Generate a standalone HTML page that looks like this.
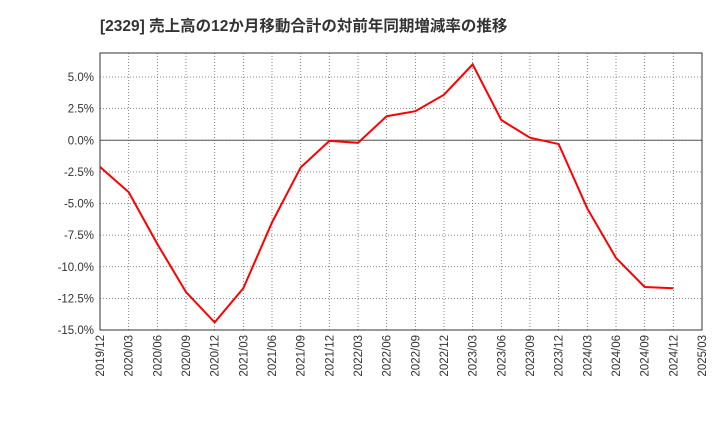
<!DOCTYPE html>
<html><head><meta charset="utf-8"><style>
body{margin:0;background:#fff;}
svg{display:block;font-family:"Liberation Sans","Noto Sans CJK JP",sans-serif;}
</style></head><body>
<svg id="chart" width="720" height="440">
<text x="100" y="31" font-size="15.5" font-weight="bold" fill="#333">[2329]  売上高の12か月移動合計の対前年同期増減率の推移</text>
<g id="grid"></g><g id="axes"></g><g id="series"></g>
</svg>
<script>
const categories=["2019/12","2020/03","2020/06","2020/09","2020/12","2021/03","2021/06","2021/09","2021/12","2022/03","2022/06","2022/09","2022/12","2023/03","2023/06","2023/09","2023/12","2024/03","2024/06","2024/09","2024/12","2025/03"];
const values=[-2.1,-4.1,-8.2,-12.0,-14.4,-11.7,-6.5,-2.15,-0.05,-0.2,1.9,2.3,3.6,6.0,1.6,0.2,-0.3,-5.4,-9.3,-11.6,-11.7];
const yTicks=[5,2.5,0,-2.5,-5,-7.5,-10,-12.5,-15];
const yTickLabels=["5.0%","2.5%","0.0%","-2.5%","-5.0%","-7.5%","-10.0%","-12.5%","-15.0%"];
const L=100,R=702,T=53,B=330,yMin=-15,yMax=6.9;
const x=i=>L+i*(R-L)/(categories.length-1);
const y=v=>B-(v-yMin)/(yMax-yMin)*(B-T);
const NS="http://www.w3.org/2000/svg";
function mk(t,a,p){const e=document.createElementNS(NS,t);for(const k in a)e.setAttribute(k,a[k]);p.appendChild(e);return e;}
const grid=document.getElementById('grid'),axes=document.getElementById('axes'),series=document.getElementById('series');
categories.forEach((c,i)=>{
 const g=mk('line',{x1:x(i),x2:x(i),y1:T,y2:B,stroke:'#666','stroke-width':0.8,'stroke-dasharray':'1,2'},grid);
 
 
 const xx=x(i),yy=B+5;
 const t=mk('text',{x:xx+4,y:yy,'font-size':11.5,fill:'#333','text-anchor':'end',transform:`rotate(-90 ${xx+4} ${yy})`},axes);
 t.textContent=c;
 
 
});
yTicks.forEach((v,i)=>{
 const g=mk('line',{x1:L,x2:R,y1:y(v),y2:y(v),stroke:'#666','stroke-width':0.8,'stroke-dasharray':'1,2'},grid);
 
 
 const t=mk('text',{x:L-6,y:y(v)+4,'font-size':11.5,fill:'#333','text-anchor':'end'},axes);
 t.textContent=yTickLabels[i];
 
 
});
const z=mk('line',{x1:L,x2:R,y1:y(0),y2:y(0),stroke:'#555','stroke-width':1},grid);


const fr=mk('rect',{x:L,y:T,width:R-L,height:B-T,fill:'none',stroke:'#333','stroke-width':1},axes);


const pl=mk('polyline',{points:values.map((v,i)=>x(i)+','+y(v)).join(' '),fill:'none',stroke:'#ff0000','stroke-width':2},series);


</script>
</body></html>
